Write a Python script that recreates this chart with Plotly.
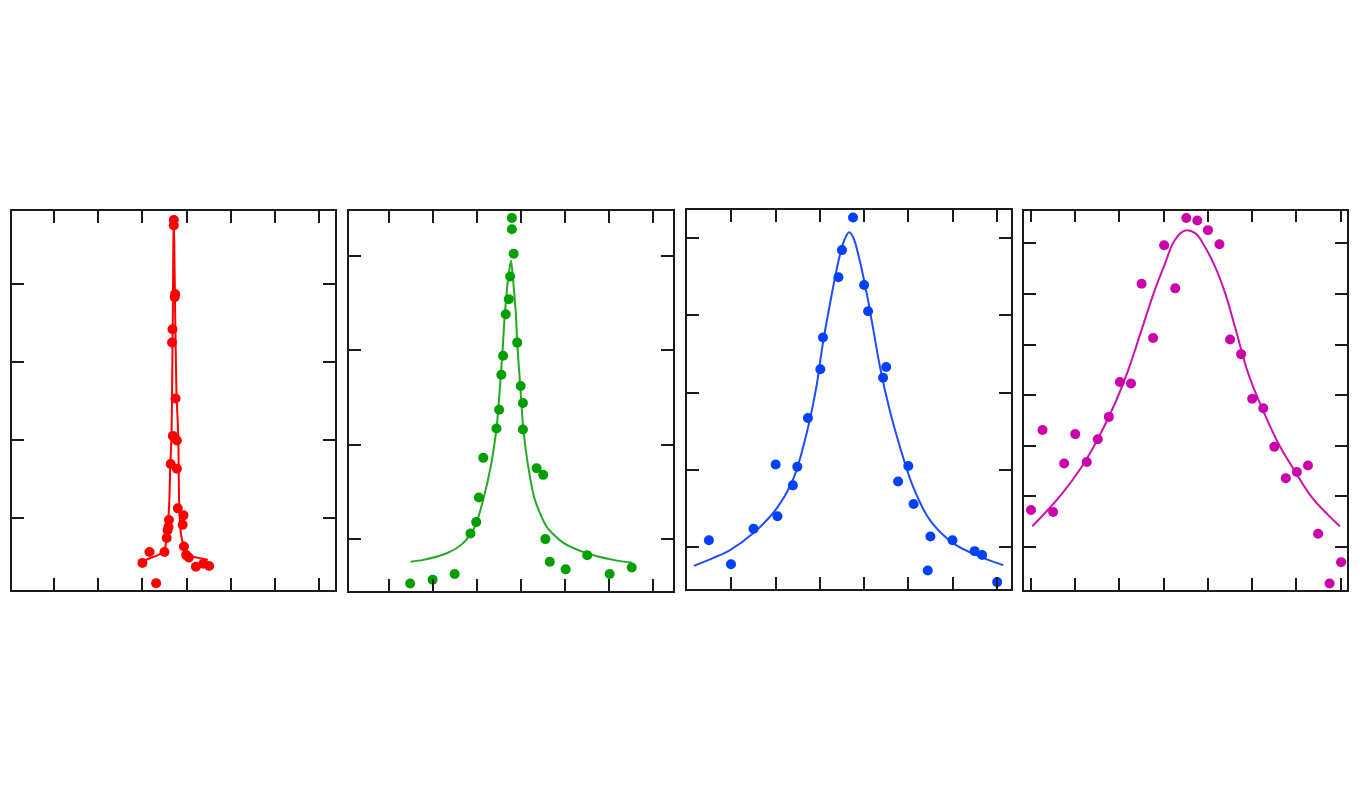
import plotly.graph_objects as go

# === Painel 1 (vermelho) ===
p1_x = [3.71, 3.71, 3.73, 3.74, 3.68, 3.67, 3.75, 3.69, 3.78, 3.64, 3.78, 3.80, 3.93, 3.91,
        3.60, 3.59, 3.57, 3.55, 3.50, 3.16, 3.94, 3.99, 4.05, 3.00, 4.21, 4.38, 4.51, 3.31]
p1_y = [4.82, 4.75, 3.83, 3.87, 3.42, 3.25, 2.53, 2.05, 1.99, 1.69, 1.63, 1.12, 1.03, 0.91,
        0.97, 0.88, 0.84, 0.74, 0.56, 0.56, 0.63, 0.52, 0.49, 0.42, 0.37, 0.41, 0.38, 0.16]
p1_fit_x = [3.00, 3.17, 3.31, 3.42, 3.51, 3.56, 3.61, 3.63, 3.66, 3.67, 3.69, 3.70, 3.71,
            3.72, 3.74, 3.77, 3.81, 3.82, 3.83, 3.87, 3.96, 4.14, 4.30, 4.48]
p1_fit_y = [0.44, 0.48, 0.51, 0.54, 0.61, 0.80, 1.23, 1.65, 2.09, 2.60, 3.67, 4.56, 4.80,
            4.56, 3.67, 2.60, 2.09, 1.65, 1.23, 0.80, 0.59, 0.50, 0.48, 0.46]

# === Painel 2 (verde) ===
p2_x = [3.79, 3.79, 3.83, 3.75, 3.72, 3.65, 3.91, 3.59, 3.55, 3.99, 4.04, 3.50, 3.44, 4.04,
        3.14, 4.35, 4.50, 3.04, 2.98, 2.85, 4.55, 5.50, 4.65, 5.01, 6.51, 2.49, 6.01, 1.99, 1.48]
p2_y = [4.40, 4.28, 4.02, 3.78, 3.54, 3.38, 3.08, 2.94, 2.74, 2.62, 2.44, 2.37, 2.17, 2.16,
        1.86, 1.75, 1.68, 1.44, 1.18, 1.06, 1.00, 0.83, 0.76, 0.68, 0.70, 0.63, 0.63, 0.57, 0.53]
p2_fit_x = [1.49, 1.78, 2.31, 2.69, 2.95, 3.14, 3.31, 3.44, 3.48, 3.57, 3.63, 3.71, 3.77,
            3.81, 3.88, 3.91, 3.98, 4.05, 4.16, 4.31, 4.58, 4.96, 5.49, 6.09, 6.51]
p2_fit_y = [0.76, 0.78, 0.85, 0.96, 1.13, 1.42, 1.77, 2.17, 2.37, 2.94, 3.38, 3.78, 3.95,
            3.78, 3.38, 3.08, 2.62, 2.16, 1.77, 1.42, 1.13, 0.96, 0.85, 0.78, 0.75]

# === Painel 3 (azul) ===
p3_x = [3.75, 3.50, 3.42, 4.00, 4.09, 3.07, 3.01, 4.50, 4.43, 2.73, 2.00, 2.49, 5.00,
        2.39, 4.77, 5.12, 2.04, 1.50, 5.50, 0.49, 6.00, 6.50, 6.67, 0.99, 5.44, 7.01]
p3_y = [5.26, 4.84, 4.49, 4.39, 4.05, 3.71, 3.30, 3.33, 3.19, 2.67, 2.07, 2.04, 2.05,
        1.80, 1.85, 1.56, 1.40, 1.24, 1.14, 1.09, 1.09, 0.95, 0.90, 0.78, 0.70, 0.55]
p3_fit_x = [0.15, 0.58, 0.96, 1.49, 2.02, 2.39, 2.70, 2.92, 3.07, 3.26, 3.41, 3.54, 3.66,
            3.75, 3.90, 4.06, 4.21, 4.36, 4.58, 4.81, 5.11, 5.49, 6.02, 6.62, 7.15]
p3_fit_y = [0.76, 0.86, 0.96, 1.18, 1.50, 1.87, 2.47, 3.07, 3.64, 4.24, 4.67, 4.95, 5.07,
            5.01, 4.71, 4.28, 3.81, 3.33, 2.77, 2.30, 1.78, 1.35, 1.05, 0.88, 0.77]

# === Painel 4 (magenta) ===
p4_x = [3.51, 3.76, 4.00, 4.26, 3.01, 2.50, 3.26, 2.76, 4.50, 4.75, 2.01, 2.26, 5.00, 5.25,
        1.76, 0.26, 1.00, 1.51, 5.50, 0.75, 1.26, 6.26, 6.01, 5.76, 0.00, 0.50, 6.49, 7.01, 6.75]
p4_y = [7.50, 7.45, 7.26, 6.98, 6.96, 6.20, 6.11, 5.13, 5.10, 4.81, 4.26, 4.23, 3.93, 3.74,
        3.57, 3.31, 3.23, 3.13, 2.98, 2.65, 2.68, 2.61, 2.48, 2.36, 1.73, 1.69, 1.26, 0.70, 0.28]
p4_fit_x = [0.03, 0.39, 0.77, 1.15, 1.52, 1.90, 2.20, 2.50, 2.80, 3.03, 3.25, 3.48, 3.71,
            3.93, 4.16, 4.39, 4.61, 4.91, 5.21, 5.59, 5.97, 6.34, 6.72, 6.98]
p4_fit_y = [1.41, 1.74, 2.13, 2.59, 3.15, 3.84, 4.50, 5.29, 6.08, 6.60, 7.06, 7.25, 7.20,
            6.93, 6.54, 6.01, 5.35, 4.43, 3.77, 3.05, 2.49, 1.99, 1.63, 1.41]

# ticks (sem rótulos)
p1_xticks, p1_yticks = [1, 2, 3, 4, 5, 6, 7], [1, 2, 3, 4]
p2_xticks, p2_yticks = [1, 2, 3, 4, 5, 6, 7], [1, 2, 3, 4]
p3_xticks, p3_yticks = [1, 2, 3, 4, 5, 6, 7], [1, 2, 3, 4, 5]
p4_xticks, p4_yticks = [0, 1, 2, 3, 4, 5, 6, 7], [1, 2, 3, 4, 5, 6, 7]

paineis = [
    dict(x=p1_x, y=p1_y, fx=p1_fit_x, fy=p1_fit_y, xt=p1_xticks, yt=p1_yticks,
         cor='#ff0000', cor_linha='#ff0000', xr=[0.05, 7.357], yr=[0.072, 4.937],
         dx=[12, 335], dy=[211, 590], suave=0.4),
    dict(x=p2_x, y=p2_y, fx=p2_fit_x, fy=p2_fit_y, xt=p2_xticks, yt=p2_yticks,
         cor='#009f00', cor_linha='#22aa22', xr=[0.092, 7.447], yr=[0.456, 4.473],
         dx=[349, 673], dy=[211, 590.5], suave=0.7),
    dict(x=p3_x, y=p3_y, fx=p3_fit_x, fy=p3_fit_y, xt=p3_xticks, yt=p3_yticks,
         cor='#0040ff', cor_linha='#1f4cff', xr=[-0.005, 7.323], yr=[0.461, 5.358],
         dx=[687, 1011], dy=[210, 589], suave=1.0),
    dict(x=p4_x, y=p4_y, fx=p4_fit_x, fy=p4_fit_y, xt=p4_xticks, yt=p4_yticks,
         cor='#cc00aa', cor_linha='#cc11b0', xr=[-0.158, 7.143], yr=[0.150, 7.644],
         dx=[1024, 1347], dy=[210.7, 590], suave=1.2),
]

W, H = 1360, 800
OFF = 8  # margem do <body> da página
fig = go.Figure()
eixo = dict(showline=True, linecolor='#1a1a1a', linewidth=1.5, mirror='ticks',
            ticks='inside', ticklen=12, tickwidth=1.5, tickcolor='#1a1a1a',
            showticklabels=False, showgrid=False, zeroline=False)

for i, p in enumerate(paineis, start=1):
    sx = '' if i == 1 else str(i)
    fig.add_trace(go.Scatter(
        x=p['fx'], y=p['fy'], mode='lines',
        line=dict(color=p['cor_linha'], width=2, shape='spline', smoothing=p['suave']),
        xaxis='x' + sx, yaxis='y' + sx, showlegend=False, hoverinfo='skip'))
    fig.add_trace(go.Scatter(
        x=p['x'], y=p['y'], mode='markers',
        marker=dict(color=p['cor'], size=10),
        xaxis='x' + sx, yaxis='y' + sx, showlegend=False))
    fig.update_layout(**{
        'xaxis' + sx: dict(eixo, range=p['xr'], tickvals=p['xt'], anchor='y' + sx,
                           domain=[(p['dx'][0] - OFF) / W, (p['dx'][1] - OFF) / W]),
        'yaxis' + sx: dict(eixo, range=p['yr'], tickvals=p['yt'], anchor='x' + sx,
                           domain=[1 - (p['dy'][1] - OFF) / H, 1 - (p['dy'][0] - OFF) / H]),
    })

fig.update_layout(
    width=W, height=H,
    margin=dict(l=0, r=0, t=0, b=0),
    paper_bgcolor='white', plot_bgcolor='white',
)
fig.write_html("out.html")
